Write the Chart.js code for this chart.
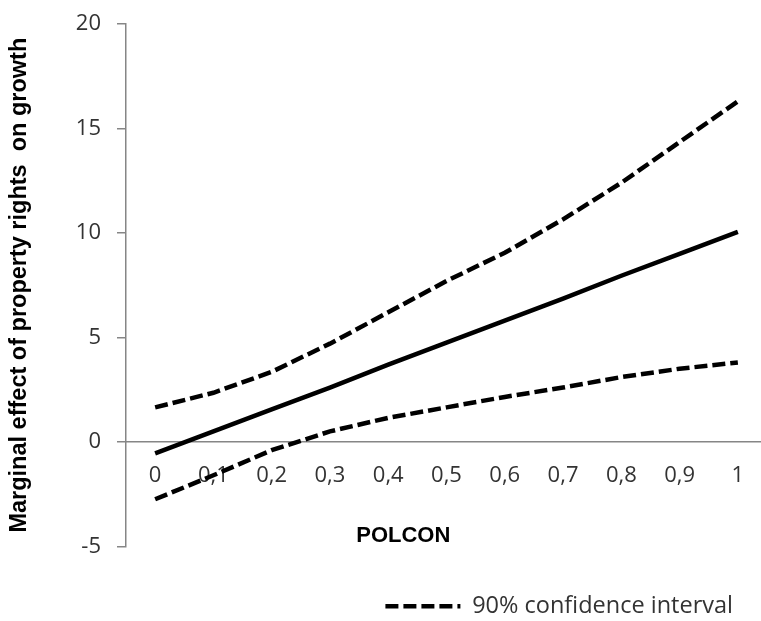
<!DOCTYPE html>
<html>
<head>
<meta charset="utf-8">
<script src="https://cdn.jsdelivr.net/npm/chart.js@4.4.1/dist/chart.umd.min.js"></script>
<style>
  html, body { margin: 0; padding: 0; background: #fff; }
  #wrap { width: 761px; height: 621px; }
</style>
</head>
<body>
<div id="wrap"><canvas id="c"></canvas></div>
<script>
// POLCON values along the x axis
const polcon = [0, 0.1, 0.2, 0.3, 0.4, 0.5, 0.6, 0.7, 0.8, 0.9, 1];
// marginal effect and 90% band
const effect = [-0.55, 0.5, 1.55, 2.6, 3.7, 4.75, 5.8, 6.85, 7.95, 9.0, 10.05];
const upper  = [1.65, 2.35, 3.35, 4.7, 6.2, 7.7, 9.05, 10.65, 12.4, 14.35, 16.3];
const lower  = [-2.75, -1.6, -0.4, 0.5, 1.15, 1.65, 2.15, 2.6, 3.1, 3.5, 3.8];
const xTicks = [0, 0.1, 0.2, 0.3, 0.4, 0.5, 0.6, 0.7, 0.8, 0.9, 1];
const yTicks = [-5, 0, 5, 10, 15, 20];

const axisGrey = '#868686';
const tickFont = { family: 'Open Sans', size: 22 };
const toXY = vals => vals.map((v, i) => ({ x: polcon[i], y: v }));

new Chart(document.getElementById('c'), {
  type: 'line',
  data: {
    datasets: [
      { label: 'effect', data: toXY(effect), borderColor: '#000', borderWidth: 4.5, pointRadius: 0 },
      { label: '90% confidence interval', data: toXY(upper), borderColor: '#000', borderWidth: 4.5, borderDash: [13, 5], pointRadius: 0 },
      { label: 'lower', data: toXY(lower), borderColor: '#000', borderWidth: 4.5, borderDash: [13, 5], pointRadius: 0 }
    ]
  },
  options: {
    responsive: true,
    maintainAspectRatio: false,
    animation: false,
    layout: { padding: { top: 24, right: 1, bottom: -7, left: 0 } },
    scales: {
      x: {
        type: 'linear',
        position: { y: 0 },
        min: -0.05,
        max: 1.038,
        afterBuildTicks: s => { s.ticks = xTicks.map(v => ({ value: v })); },
        afterFit: s => { s.paddingRight = 0; s.paddingLeft = 0; },
        grid: { display: false, drawTicks: false },
        border: { color: axisGrey, width: 1.5 },
        ticks: {
          color: '#333',
          font: tickFont,
          padding: 21,
          maxRotation: 0,
          autoSkip: false,
          callback: v => String(Math.round(v * 10) / 10).replace('.', ',')
        },
        title: {
          display: true,
          text: 'POLCON             ',
          color: '#000',
          font: { family: 'Liberation Sans', size: 22, weight: 'bold' },
          padding: { top: 12, bottom: 0 }
        }
      },
      y: {
        min: -5,
        max: 20,
        afterBuildTicks: s => { s.ticks = yTicks.map(v => ({ value: v })); },
        afterFit: s => { s.width = 126; s.paddingTop = 0; s.paddingBottom = 0; },
        grid: { drawOnChartArea: false, drawTicks: true, tickLength: 9, color: axisGrey, lineWidth: 1.5 },
        border: { color: axisGrey, width: 1.5 },
        ticks: { color: '#333', font: tickFont, padding: 16 },
        title: {
          display: true,
          text: 'Marginal effect of property rights  on growth',
          color: '#000',
          font: { family: 'Liberation Sans', size: 23.5, weight: 'bold' },
          padding: { top: 5, bottom: 0 }
        }
      }
    },
    plugins: {
      tooltip: { enabled: false },
      legend: {
        position: 'bottom',
        align: 'end',
        title: { display: true, text: ' ', font: { size: 1 }, padding: { top: 20, bottom: 0 } },
        labels: {
          color: '#333',
          font: { family: 'Open Sans', size: 23.5 },
          padding: 27,
          usePointStyle: true,
          pointStyle: 'line',
          pointStyleWidth: 75,
          generateLabels: chart => [{
            text: '90% confidence interval',
            fontColor: '#333',
            strokeStyle: '#000',
            lineWidth: 4.5,
            lineDash: [13, 5],
            pointStyle: 'line',
            datasetIndex: 1
          }]
        }
      }
    }
  }
});
</script>
</body>
</html>
